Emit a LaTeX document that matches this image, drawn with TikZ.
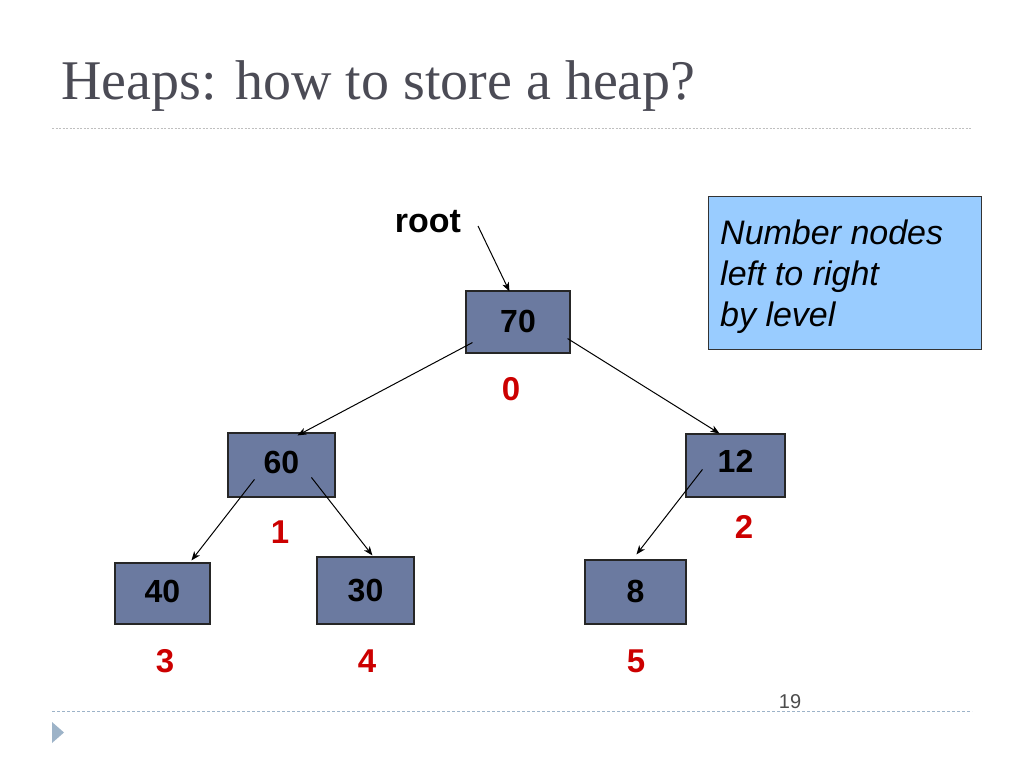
\documentclass[tikz,border=0pt]{standalone}
\usepackage{fontspec}
\setmainfont{Liberation Serif}
\setsansfont{Liberation Sans}
\usetikzlibrary{arrows.meta,calc}
\definecolor{titlegray}{HTML}{4B4B55}
\definecolor{boxfill}{HTML}{6B7AA0}
\definecolor{notefill}{HTML}{99CCFF}
\definecolor{idxred}{HTML}{CC0000}
\definecolor{rulegray}{HTML}{BFBFBF}
\definecolor{ruleblue}{HTML}{9DB3C8}
\begin{document}
\begin{tikzpicture}[x=1pt,y=-1pt,
  hbox/.style={draw=black!85, line width=1.1pt, fill=boxfill, inner sep=0pt,
     font=\sffamily\bfseries\fontsize{32}{34}\selectfont},
  idx/.style={text=idxred, font=\sffamily\bfseries\fontsize{33}{35}\selectfont, inner sep=0pt},
  link/.style={line width=1pt, -{Stealth[length=9pt,width=7pt,inset=2.5pt]}}]
\useasboundingbox (0,0) rectangle (1024,768);
% title
\node[anchor=base west, inner sep=0pt, text=titlegray, font=\fontsize{56}{60}\selectfont] (title) at (61,99) {Heaps: how to store a heap?};
\draw[rulegray, line width=1pt, dash pattern=on 2pt off 1.5pt] (52,128) -- (972,128);
% footer
\draw[ruleblue, line width=1pt, dash pattern=on 3pt off 2pt] (52,711) -- (972,711);
\fill[ruleblue] (52,722) -- (64,732.5) -- (52,743) -- cycle;
\node[anchor=base, inner sep=0pt, text=black!70, font=\sffamily\fontsize{20}{22}\selectfont] (pg) at (790,708) {19};
% note box
\node[draw=black!80, line width=1pt, fill=notefill, minimum width=273, minimum height=153, anchor=north west, inner sep=0pt] (note) at (708,196) {};
\node[anchor=north west, inner sep=0pt, align=left, font=\sffamily\itshape\fontsize{34}{41}\selectfont] (notetext) at (720,220) {Number nodes\\left to right\\by level};
% tree nodes
\node[hbox, minimum width=104, minimum height=62] (n70) at (518,322) {\raisebox{1pt}{70}};
\node[hbox, minimum width=107, minimum height=64] (n60) at (281.5,465) {\raisebox{5pt}{60}};
\node[hbox, minimum width=99, minimum height=63] (n12) at (735.5,465.5) {\raisebox{9pt}{12}};
\node[hbox, minimum width=95, minimum height=61] (n40) at (162.5,593.5) {\raisebox{5pt}{40}};
\node[hbox, minimum width=97, minimum height=67] (n30) at (365.5,590.5) {30};
\node[hbox, minimum width=101, minimum height=64] (n8) at (635.5,592) {\raisebox{1pt}{8}};
% indices
\node[idx] (i0) at (511,389) {0};
\node[idx] (i1) at (280,532) {1};
\node[idx] (i2) at (744,527) {2};
\node[idx] (i3) at (165,661) {3};
\node[idx] (i4) at (367,661) {4};
\node[idx] (i5) at (636,661) {5};
% root
\node[inner sep=0pt, font=\sffamily\bfseries\fontsize{34}{36}\selectfont] (root) at (428,222) {root};
% connectors
\coordinate (r0) at (478,226);
\draw[link] (r0) -- ($(n70.north west)+(44,1)$);
\draw[link] ($(n70.south west)+(7,-11)$) -- ($(n60.north west)+(70,3)$);
\draw[link] ($(n70.south east)+(-3,-15)$) -- ($(n12.north west)+(34,0)$);
\draw[link] ($(n60.north west)+(27,47)$) -- ($(n40.north west)+(77,-2)$);
\draw[link] ($(n60.north west)+(84,45)$) -- ($(n30.north west)+(56,-1)$);
\draw[link] ($(n12.north west)+(17,36)$) -- ($(n8.north west)+(52,-5)$);
\end{tikzpicture}
\end{document}
